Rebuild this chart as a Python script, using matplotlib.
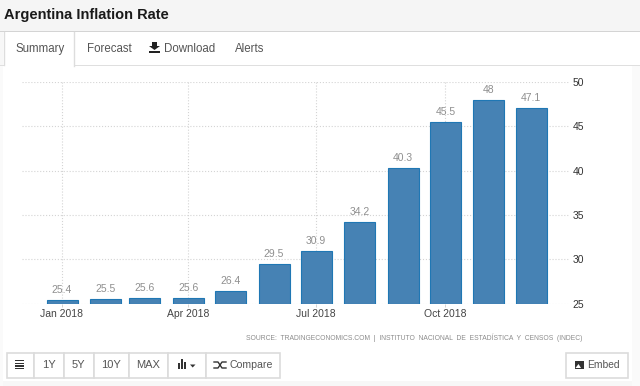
import matplotlib
matplotlib.use('Agg')
import matplotlib.pyplot as plt
import matplotlib.dates as mdates
from matplotlib.patches import Rectangle, Polygon
import numpy as np
from datetime import datetime

months = [datetime(2018, m, 1) for m in range(1, 13)]
values = [25.4, 25.5, 25.6, 25.6, 26.4, 29.5, 30.9, 34.2, 40.3, 45.5, 48, 47.1]
value_labels = ['25.4', '25.5', '25.6', '25.6', '26.4', '29.5', '30.9', '34.2', '40.3', '45.5', '48', '47.1']
tick_dates = [datetime(2018, 1, 1), datetime(2018, 4, 1), datetime(2018, 7, 1), datetime(2018, 10, 1)]
tick_labels = ['Jan 2018', 'Apr 2018', 'Jul 2018', 'Oct 2018']
y_ticks = [25, 30, 35, 40, 45, 50]
source = 'SOURCE:  TRADINGECONOMICS.COM  |  INSTITUTO  NACIONAL  DE  ESTADÍSTICA  Y  CENSOS  (INDEC)'
range_buttons = ['1Y', '5Y', '10Y', 'MAX']

plt.rcParams['font.family'] = ['Liberation Sans', 'DejaVu Sans']
W, H = 640, 386
fig = plt.figure(figsize=(6.4, 3.86), dpi=100, facecolor='white')

# page chrome, drawn in pixel coordinates
bg = fig.add_axes([0, 0, 1, 1])
bg.set_xlim(0, W)
bg.set_ylim(H, 0)
bg.axis('off')


def box(x, y, w, h, fc='white', ec='none', lw=1.2):
    bg.add_patch(Rectangle((x, y), w, h, facecolor=fc, edgecolor=ec, linewidth=lw))


box(0, 0, 640, 31.5, fc='#f5f5f5')
box(0, 31, 640, 1, fc='#d4d4d4')
box(0, 32, 3, 33, fc='#f7f7f7')
box(0, 65, 640, 1.2, fc='#dfdfdf')
box(3.5, 32, 70.5, 34.5, fc='white')
bg.plot([3.5, 3.5], [32, 65], color='#dddddd', lw=1)
bg.plot([74, 74], [32, 66], color='#dddddd', lw=1)
box(0, 66, 3, 320, fc='#fafafa')
box(3, 381, 637, 5, fc='#f7f7f7')
box(632, 66, 8, 320, fc='#fafafa')

bg.text(4, 14.5, 'Argentina Inflation Rate', fontsize=10.5, fontweight='bold', color='#1a1a1a', va='center')
tab_color = '#555555'
bg.text(15.5, 49, 'Summary', fontsize=8.3, color=tab_color, va='center')
bg.text(86.5, 49, 'Forecast', fontsize=8.3, color=tab_color, va='center')
bg.text(164, 49, 'Download', fontsize=8.3, color=tab_color, va='center')
bg.text(235, 49, 'Alerts', fontsize=8.3, color=tab_color, va='center')
# download icon
bg.add_patch(Polygon([[152, 42], [157, 42], [157, 46], [160, 46], [154.5, 50], [149, 46], [152, 46]], fc='#222222', ec='none'))
box(149, 50.5, 11, 2.5, fc='#222222')

# bottom buttons
edge = '#dcdcdc'
box(6.5, 352.5, 27, 25, ec=edge)
for yy in (360, 362.6, 365.2, 367.8):
    box(15, yy, 9, 1.4, fc='#333333')
xs = [33.5, 63.5, 93.5, 128.5, 167.5]
for x0, x1, lab in zip(xs[:-1], xs[1:], range_buttons):
    box(x0, 352.5, x1 - x0, 25, ec=edge)
    bg.text((x0 + x1) / 2, 365, lab, fontsize=8, color=tab_color, ha='center', va='center')
box(167.5, 352.5, 38, 25, ec=edge)
for bx, bh in zip((178, 181, 184), (6, 10, 7)):
    box(bx, 369 - bh, 2.4, bh, fc='#333333')
bg.add_patch(Polygon([[190, 364.5], [195.5, 364.5], [192.7, 367.5]], fc='#333333', ec='none'))
box(205.5, 352.5, 74, 25, ec=edge)
bg.text(229.5, 365, 'Compare', fontsize=7.6, color=tab_color, va='center')
bg.plot([214, 218, 222, 226], [362, 362, 368, 368], color='#333333', lw=1)
bg.plot([214, 218, 222, 226], [368, 368, 362, 362], color='#333333', lw=1)
box(565.5, 352.5, 62, 25, ec=edge)
box(574.5, 361, 9.5, 8, fc='#333333')
bg.add_patch(Polygon([[575.5, 368], [578.5, 364], [581, 368]], fc='white', ec='none'))
bg.text(587, 365, 'Embed', fontsize=7.4, color=tab_color, va='center')

bg.text(246, 338, source, fontsize=4.85, color='#8c8c8c', va='center')

# chart
left, right, bottom, top = 22, 570, 303.5, 82
ax = fig.add_axes([left / W, 1 - bottom / H, (right - left) / W, (bottom - top) / H])
ax.patch.set_alpha(0)
px_per_day = 469 / 334
d0 = mdates.date2num(months[0])
ax.set_xlim(d0 - (62 - left) / px_per_day, d0 + (right - 62) / px_per_day)
ax.set_ylim(25, 50)
ax.xaxis_date()

bar_w = 31 / px_per_day
ax.bar(mdates.date2num(months), np.array(values) - 25, bottom=25, width=bar_w,
       color='#4682b4', edgecolor='#1f77b4', linewidth=0.8, zorder=3)
for m, v, lab in zip(months, values, value_labels):
    ax.text(mdates.date2num(m), v + 0.55, lab, fontsize=7.5, color='#8f8f8f', ha='center', va='bottom', zorder=4)

ax.set_xticks(mdates.date2num(tick_dates))
ax.set_xticklabels(tick_labels, fontsize=7.5, color='#444444')
ax.set_yticks(y_ticks)
ax.yaxis.tick_right()
ax.set_yticklabels([str(t) for t in y_ticks], fontsize=7.5, color='#333333')
ax.tick_params(axis='x', length=2, width=0.6, color='#cccccc', pad=2)
ax.tick_params(axis='y', length=0, pad=2)
ax.grid(True, color='#d4d4d4', linestyle=':', linewidth=0.8, zorder=0)
ax.set_axisbelow(True)
for s in ax.spines.values():
    s.set_visible(False)

fig.savefig('out.png', dpi=100)
